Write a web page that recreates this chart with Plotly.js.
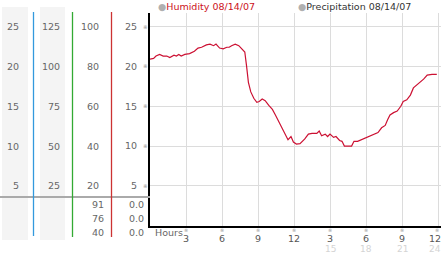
<!DOCTYPE html>
<html><head><meta charset="utf-8">
<script src="https://cdn.plot.ly/plotly-3.0.1.min.js"></script>
<style>html,body{margin:0;padding:0;background:#fff;}#chart{width:442px;height:253px;}</style>
</head><body><div id="chart"></div>
<script>
// ---- data ----
const hours = [0,0.3,0.5,0.8,1.1,1.4,1.65,2.0,2.2,2.4,2.6,2.9,3.3,3.7,4.0,4.3,4.7,5.0,5.3,5.5,5.8,6.1,6.4,6.6,6.8,7.1,7.4,7.7,7.9,8.05,8.2,8.4,8.65,8.9,9.1,9.35,9.6,9.9,10.2,10.45,10.7,10.9,11.1,11.35,11.5,11.75,11.95,12.2,12.5,12.9,13.2,13.5,13.9,14.1,14.3,14.6,14.8,15.0,15.3,15.5,15.8,16.0,16.2,16.8,17.0,17.3,17.6,17.9,18.3,18.6,19.0,19.3,19.6,19.8,20.0,20.3,20.6,20.9,21.1,21.4,21.7,21.95,22.2,22.5,22.8,23.1,23.5,23.9];
const humidity = [20.9,21.0,21.3,21.5,21.3,21.3,21.1,21.4,21.3,21.5,21.3,21.5,21.6,21.9,22.3,22.4,22.7,22.8,22.6,22.8,22.3,22.2,22.4,22.4,22.6,22.8,22.6,22.1,21.8,20.0,18.0,16.8,16.0,15.5,15.6,15.9,15.7,15.1,14.6,13.9,13.2,12.5,12.0,11.3,10.8,11.2,10.5,10.25,10.3,10.9,11.5,11.6,11.6,11.9,11.3,11.5,11.2,11.5,11.1,11.2,10.7,10.6,10.0,10.0,10.6,10.6,10.8,11.0,11.2,11.5,11.7,12.3,12.6,13.3,13.9,14.2,14.4,15.0,15.6,15.8,16.4,17.3,17.6,18.0,18.4,18.9,19.0,19.0];
const yTickVals = [5,10,15,20,25];
const yTickText = ['5','10','15','20','25'];
const col1Labels = ['5','10','15','20','25'];
const col2Labels = ['25','50','75','100','125'];
const col3Labels = ['20','40','60','80','100'];
const xTickVals = [3,6,9,12,15,18,21,24];
const xTickText = ['3','6','9','12','3','6','9','12'];
const xSecondVals = [15,18,21,24];
const xSecondText = ['15','18','21','24'];
const summaryLeft = ['91','76','40'];
const summaryRight = ['0.0','0.0','0.0'];
const legendNames = ['Humidity 08/14/07','Precipitation 08/14/07'];

// ---- layout helpers (pixel -> paper) ----
const W = 442, H = 253;
const px = x => x / W;
const py = y => 1 - y / H;
const FONT = 'DejaVu Sans';
const fs = 9.5;

const shapes = [];
const annotations = [];
// gray background columns
shapes.push({type:'rect', xref:'paper', yref:'paper', x0:px(2), x1:px(28), y0:py(240), y1:py(7), fillcolor:'#f4f4f4', line:{width:0}, layer:'below'});
shapes.push({type:'rect', xref:'paper', yref:'paper', x0:px(40), x1:px(65), y0:py(240), y1:py(7), fillcolor:'#f4f4f4', line:{width:0}, layer:'below'});
// separator horizontal gray line
shapes.push({type:'line', xref:'paper', yref:'paper', x0:px(0), x1:px(150), y0:py(197), y1:py(197), line:{color:'#aaaaaa', width:2}});
// coloured vertical lines
shapes.push({type:'line', xref:'paper', yref:'paper', x0:px(33.5), x1:px(33.5), y0:py(12), y1:py(236), line:{color:'#3399dd', width:1.3}});
shapes.push({type:'line', xref:'paper', yref:'paper', x0:px(72.5), x1:px(72.5), y0:py(12), y1:py(237), line:{color:'#33aa33', width:1.3}});
shapes.push({type:'line', xref:'paper', yref:'paper', x0:px(111.5), x1:px(111.5), y0:py(12), y1:py(237), line:{color:'#cc3333', width:1.3}});

const lab = (text, x, yv, opts) => Object.assign({text:text, xref:'paper', yref:'y', x:px(x), y:yv, xanchor:'right', yanchor:'middle', showarrow:false, font:{family:FONT, size:fs, color:'#666'}}, opts||{});
yTickVals.forEach((v,i) => {
  annotations.push(lab(col1Labels[i], 21, v));
  annotations.push(lab(col2Labels[i], 62, v));
  annotations.push(lab(col3Labels[i], 101, v));
  annotations.push({text:'※', xref:'paper', yref:'y', x:px(145), y:v, xanchor:'center', yanchor:'middle', showarrow:false, font:{family:FONT, size:5.5, color:'#999'}});
});
const rowsY = [204, 218, 232];
summaryLeft.forEach((t,i) => {
  annotations.push({text:t, xref:'paper', yref:'paper', x:px(106), y:py(rowsY[i]), xanchor:'right', yanchor:'middle', showarrow:false, font:{family:FONT, size:fs, color:'#666'}});
  annotations.push({text:summaryRight[i], xref:'paper', yref:'paper', x:px(146), y:py(rowsY[i]), xanchor:'right', yanchor:'middle', showarrow:false, font:{family:FONT, size:fs, color:'#666'}});
});
// x tick marks, last (edge) label and second row
xTickVals.forEach((v,i) => {
  const last = i === xTickVals.length - 1;
  annotations.push({text:'※', xref:'x', yref:'paper', x:v, xshift: last ? -1 : 0, y:py(229.5), xanchor:'center', yanchor:'middle', showarrow:false, font:{family:FONT, size:5, color:'#999'}});
});
const tickVisible = xTickText.map((t,i) => i === xTickText.length - 1 ? '' : t);
annotations.push({text:xTickText[xTickText.length-1], xref:'x', yref:'paper', x:xTickVals[xTickVals.length-1], xshift:-3, y:py(238.5), xanchor:'center', yanchor:'middle', showarrow:false, font:{family:FONT, size:fs, color:'#555'}});
xSecondVals.forEach((v,i) => {
  const last = i === xSecondVals.length - 1;
  annotations.push({text:xSecondText[i], xref:'x', yref:'paper', x:v, xshift: last ? -3 : 0, y:py(248.5), xanchor:'center', yanchor:'middle', showarrow:false, font:{family:FONT, size:9, color:'#d4d4d4'}});
});
annotations.push({text:'Hours', xref:'paper', yref:'paper', x:px(153), y:py(232), xanchor:'left', yanchor:'middle', showarrow:false, font:{family:FONT, size:fs, color:'#666'}});
// legend
annotations.push({text:'<span style="color:#b0b0b0">●</span><span style="color:#cc1122">'+legendNames[0]+'</span>', xref:'paper', yref:'paper', x:px(156), y:py(7), xanchor:'left', yanchor:'middle', showarrow:false, font:{family:FONT, size:fs}});
annotations.push({text:'<span style="color:#b0b0b0">●</span><span style="color:#333">'+legendNames[1]+'</span>', xref:'paper', yref:'paper', x:px(296), y:py(7), xanchor:'left', yanchor:'middle', showarrow:false, font:{family:FONT, size:fs}});

const trace = {x:hours, y:humidity, type:'scatter', mode:'lines', line:{color:'#cc1133', width:1.2}, hoverinfo:'skip'};

const layout = {
  width:W, height:H, margin:{l:0,r:0,t:0,b:0}, showlegend:false,
  paper_bgcolor:'#fff', plot_bgcolor:'#fff',
  xaxis:{domain:[px(150), px(441)], range:[0, 24.25], tickvals:xTickVals, ticktext:tickVisible,
    showgrid:true, gridcolor:'#dcdcdc', gridwidth:1, zeroline:false,
    showline:true, linecolor:'#000', linewidth:2, ticks:'outside', ticklen:3, tickcolor:'rgba(0,0,0,0)',
    tickfont:{family:FONT, size:fs, color:'#555'}},
  yaxis:{domain:[py(225.8), py(13)], range:[0, 26.7], tickvals:yTickVals, ticktext:yTickText,
    showgrid:true, gridcolor:'#dcdcdc', gridwidth:1, zeroline:false,
    showline:true, linecolor:'#000', linewidth:2, ticks:'outside', ticklen:9, tickcolor:'rgba(0,0,0,0)',
    tickfont:{family:FONT, size:fs, color:'#666'}},
  shapes:shapes, annotations:annotations
};
Plotly.newPlot('chart', [trace], layout, {staticPlot:true, displayModeBar:false});
</script></body></html>
